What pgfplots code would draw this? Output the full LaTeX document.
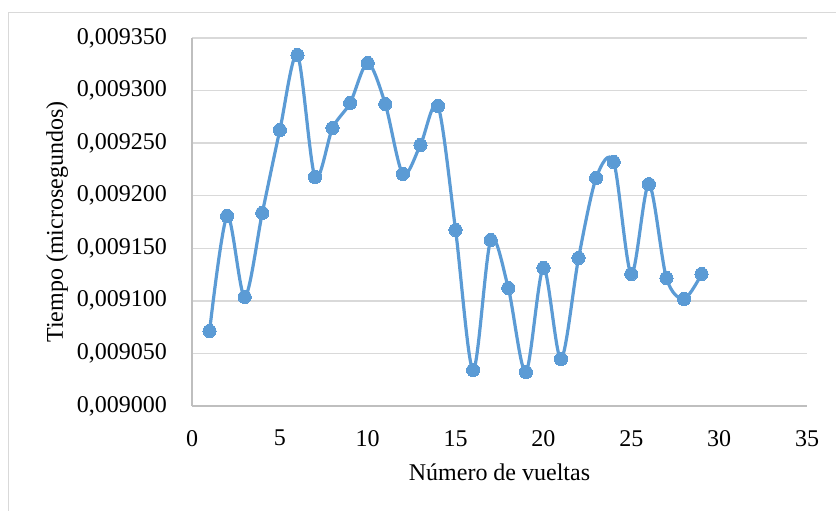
\documentclass[border=0pt]{standalone}
\usepackage{pgfplots}
\pgfplotsset{compat=1.18}
\usepackage{fontspec}
\setmainfont{Liberation Serif}
\definecolor{excelblue}{HTML}{5B9BD5}
\definecolor{gridgray}{HTML}{D9D9D9}
\definecolor{axisgray}{HTML}{BFBFBF}
\begin{document}
\begin{tikzpicture}
\useasboundingbox (0pt,0pt) rectangle (836pt,511pt);
\draw[gridgray, line width=1pt] (8pt,-20pt) -- (8pt,498pt) -- (860pt,498pt);
\begin{axis}[
  at={(192pt,105pt)}, anchor=south west,
  scale only axis, width=615pt, height=368pt,
  xmin=0, xmax=35, ymin=0.009, ymax=0.00935,
  xtick={0,5,10,15,20,25,30,35},
  ytick={0.009,0.00905,0.0091,0.00915,0.0092,0.00925,0.0093,0.00935},
  scaled y ticks=false,
  yticklabel style={/pgf/number format/fixed, /pgf/number format/fixed zerofill, /pgf/number format/precision=6, /pgf/number format/use comma, /pgf/number format/assume math mode=true},
  xticklabel style={/pgf/number format/assume math mode=true},
  xticklabel style={anchor=north, inner sep=0pt, yshift=-24pt},
  yticklabel style={anchor=east, inner sep=0pt, xshift=-25pt},
  tick label style={font=\fontsize{24}{29}\selectfont},
  label style={font=\fontsize{24}{29}\selectfont},
  ymajorgrids, grid style={gridgray, line width=1.3pt},
  axis x line*=bottom, axis y line*=left, axis line style={draw=axisgray, line width=1.3pt, -},
  major tick length=0pt,
  xlabel={Número de vueltas},
  ylabel={Tiempo (microsegundos)},
  xlabel style={at={(axis description cs:0.5,-0.2011)}, anchor=base, inner sep=0pt},
  ylabel style={at={(axis description cs:-0.2098,0.5)}, anchor=base, inner sep=0pt},
  clip=false,
]
\addplot[excelblue, line width=3.2pt, smooth, mark=*, mark size=6.6pt,
  mark options={fill=excelblue, draw=excelblue, line width=0pt}] coordinates {
(1,0.0090713) (2,0.0091807) (3,0.0091037) (4,0.0091836) (5,0.0092625)
(6,0.0093338) (7,0.0092178) (8,0.0092644) (9,0.0092882) (10,0.0093262)
(11,0.0092872) (12,0.0092207) (13,0.0092482) (14,0.0092853) (15,0.0091674)
(16,0.0090342) (17,0.0091579) (18,0.0091122) (19,0.0090323) (20,0.0091313)
(21,0.0090447) (22,0.0091408) (23,0.0092169) (24,0.0092320) (25,0.0091255)
(26,0.0092110) (27,0.0091217) (28,0.0091018) (29,0.0091255)
};
\end{axis}
\end{tikzpicture}
\end{document}
